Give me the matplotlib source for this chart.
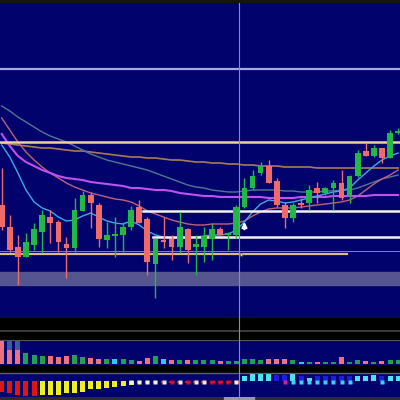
import matplotlib
matplotlib.use("Agg")
import matplotlib.pyplot as plt
import numpy as np

# ---------------- data ----------------
opens  = [195,173,153,143,155,168,183,178,156,152,189,205,195,160,164,165,173,193,181,136,
          160,161,153,171,153,153,161,171,165,165,193,212,227,234,219,195,182,197,197,212,
          207,212,217,204,224,249,244,252,242,267]
highs  = [232,185,165,167,177,190,190,180,163,202,209,208,197,178,183,178,194,200,183,162,
          183,165,188,172,165,173,177,173,168,195,222,230,238,240,222,198,197,202,215,218,
          213,220,230,225,250,257,255,252,270,272]
lows   = [170,148,115,143,150,147,157,148,122,148,189,172,153,152,143,148,170,177,125,102,
          152,140,147,137,125,138,140,165,150,162,192,210,225,217,193,172,178,192,190,197,
          205,190,200,197,223,244,243,237,242,266]
closes = [173,150,143,158,171,185,177,158,152,190,205,197,161,165,166,173,190,177,138,161,
          158,153,173,150,156,164,171,165,167,193,212,224,234,217,195,182,195,195,210,207,
          212,217,202,224,247,244,252,242,267,269]

ma_cyan   = [255,243,227,210,198,192,189,183,179,180,184,187,183,179,177,176,179,175,169,165,
             163,162,162,162,163,164,165,165,166,170,178,188,196,200,199,197,198,200,202,204,
             206,208,209,212,220,227,234,240,244,247]
ma_pink   = [282,270,258,248,240,233,227,222,217,213,210,207,205,203,201,200,198,194,189,186,
             183,180,178,176,175,175,176,176,176,177,179,184,188,191,192,192,192,193,194,195,
             196,197,198,200,204,210,216,221,225,230]
ma_violet = [266,254,244,238,234,230,227,224,222,221,220,218,217,216,215,214,212,212,211,210,
             210,209,207,206,205,204,204,203,203,203,203,203,203,202,202,202,202,203,203,203,
             203,204,204,204,204,204,205,205,205,205]
ma_teal   = [294,289,283,278,273,268,264,261,258,254,250,246,243,240,238,236,234,232,230,227,
             224,221,218,215,213,212,210,209,208,208,209,210,210,210,210,209,209,208,208,208,
             209,209,210,210,212,215,218,221,223,225]
ma_tan    = [257,256,255,254,253,252,252,251,250,249,249,248,247,246,245,244,243,243,242,242,
             241,240,240,239,238,238,237,237,236,236,235,235,234,234,234,233,233,233,233,232,
             232,232,232,232,232,232,232,232,232,232]

level_lavender = 331
level_beige = 258
level_white1 = 189
level_white1_start = 17.5
level_white2 = 163
level_white2_start = 18.7
level_thin = 149.5
level_tan = 146
level_tan_end = 42.7
band_low, band_high = 115, 128
cursor_idx = 29.33
arrow_idx, arrow_tail, arrow_tip = 30, 168, 181
pointer_idx, pointer_price = 29.45, 148

hist_vals  = [23,14,14,11,9,8,8,7,8,9,7,6,5,5,5,5,4,3,6,8,
              5,4,4,4,4,4,4,3,3,3,5,5,4,5,5,5,4,2,2,2,
              2,2,7,2,4,3,2,3,4,4]
hist_extra = [0,9,9] + [0]*47
hist_cols  = list("PPPGGGPPPGGPPGCGGPPGCPGPGGGPGGGGGPPPGCGPGGPGGPGPGG")

osc_vals = [-11,-12,-14,-15,-15,-14,-14,-14,-12,-12,-11,-8,-8,-7,-6,-5,-4,-2,-2,-2,
            -1.5,-1.5,-1.5,-1.5,-1.5,-1.5,-1.5,-1.5,-1.5,-1.5,5,7,7,7,6,6,7,5,3,5,
            5,5,5,5,5,5,6,5,5,5]
osc_cols = list("RRRRRYYYYYYYYYYYYRRRRRRRRRRRRRCCCCBBCBCBBBBBCCCBCC")
dot_cols = list("................WWWWWRWRWWRRRW.....McccccccC...c..")

# ---------------- style ----------------
BG = "#02026c"
RED = "#f06a6a"
GREEN = "#22b845"
n = len(opens)
x = np.arange(n)
XL = (-0.21, 49.23)
H = 400.0

fig = plt.figure(figsize=(4, 4), dpi=100, facecolor="black")

def panel(top, bot, fc):
    a = fig.add_axes([0, 1 - bot / H, 1, (bot - top) / H])
    a.set_facecolor(fc)
    a.set_xlim(*XL)
    a.set_xticks([]); a.set_yticks([])
    for s in a.spines.values():
        s.set_visible(False)
    return a

ax_top = panel(0, 3, "#151515")
ax = panel(3, 318, BG)
ax_sep = panel(330, 332, "#3a3a3a")
ax_h = panel(340, 365, BG)
ax_o = panel(373, 397, BG)
ax_s = panel(397, 400, "#2c2c2c")

# main panel
ax.set_ylim(82, 397)
ax.axhspan(band_low, band_high, color="#55558f", zorder=1)
ax.axhline(level_lavender, color="#a8a8e0", lw=1.6, zorder=2)
ax.plot(x, ma_tan, color="#a87c52", lw=1.2, zorder=3)
ax.plot(x, ma_teal, color="#4f7890", lw=1.0, zorder=3)
ax.plot(x, ma_pink, color="#c0607a", lw=1.0, zorder=3)
ax.plot(x, ma_violet, color="#c050f0", lw=1.5, zorder=3)
ax.plot(x, ma_cyan, color="#3fa8e8", lw=1.0, zorder=3)
ax.axhline(level_beige, color="#ecd0a0", lw=1.8, zorder=4)
ax.axhline(level_thin, color="#8080c0", lw=0.7, zorder=2)
ax.plot([XL[0], level_tan_end], [level_tan, level_tan], color="#d8bc88", lw=1.6, zorder=4)
ax.plot([level_white1_start, XL[1]], [level_white1, level_white1], color="#f2f2f2", lw=1.8, zorder=4)
ax.plot([level_white2_start, XL[1]], [level_white2, level_white2], color="#f2f2f2", lw=1.8, zorder=4)

o = np.array(opens, float); c = np.array(closes, float)
cols = [GREEN if cc >= oo else RED for oo, cc in zip(o, c)]
ax.vlines(x, lows, highs, colors=cols, lw=1.0, zorder=5)
bottoms = np.minimum(o, c)
heights = np.maximum(np.abs(c - o), 1.5)
ax.bar(x, heights, bottom=bottoms, width=0.7, color=cols, zorder=6)

ax.annotate("", xy=(arrow_idx, arrow_tip), xytext=(arrow_idx, arrow_tail),
            arrowprops=dict(arrowstyle="-|>", color="white", lw=1.6, mutation_scale=7), zorder=7)
pointer = [(0, 0), (0, -1.0), (0.25, -0.75), (0.45, -1.1), (0.55, -1.05), (0.38, -0.7), (0.7, -0.7), (0, 0)]
ax.plot(pointer_idx, pointer_price, marker=pointer, ms=7, color="white", mec="#202020", mew=0.3, zorder=8)

# histogram panel
ax_h.set_ylim(-1, 24)
hmap = {"P": "#f07080", "G": "#20a050", "C": "#30c8f0"}
ax_h.bar(x, hist_vals, width=0.62, color=[hmap[k] for k in hist_cols], zorder=3)
ax_h.bar(x, hist_extra, bottom=hist_vals, width=0.62, color="#3a5a9a", zorder=3)
ax_h.spines["top"].set_visible(True)
ax_h.spines["top"].set_color("#555555")
ax_h.spines["top"].set_linewidth(0.8)

# oscillator panel
ax_o.set_ylim(-16, 8)
omap = {"R": "#e01414", "Y": "#f0f020", "C": "#50e0f0", "B": "#1c1ce0"}
ax_o.bar(x, osc_vals, width=0.62, color=[omap[k] for k in osc_cols], zorder=3)
dmap = {"W": "#f4f0d8", "R": "#d01030", "M": "#d020a0", "c": "#40d0f0", "C": "#40d0f0"}
for i, k in enumerate(dot_cols):
    if k != ".":
        ax_o.plot(x[i], -1.2, marker="s", ms=2.2, color=dmap[k], mec="none", zorder=4)
ax_o.spines["top"].set_visible(True)
ax_o.spines["top"].set_color("#606060")
ax_o.spines["top"].set_linewidth(1.0)

# time strip cursor label
ax_s.axvspan(cursor_idx - 1.9, cursor_idx + 1.9, color="#9a9a9a")

# cursor vertical line across everything
ov = fig.add_axes([0, 0, 1, 1 - 3 / H], facecolor="none")
ov.set_xlim(*XL); ov.set_ylim(0, 1)
ov.axis("off")
ov.axvline(cursor_idx, color="#8a8ab8", lw=0.8)

fig.savefig("out.png", dpi=100, facecolor=fig.get_facecolor())
